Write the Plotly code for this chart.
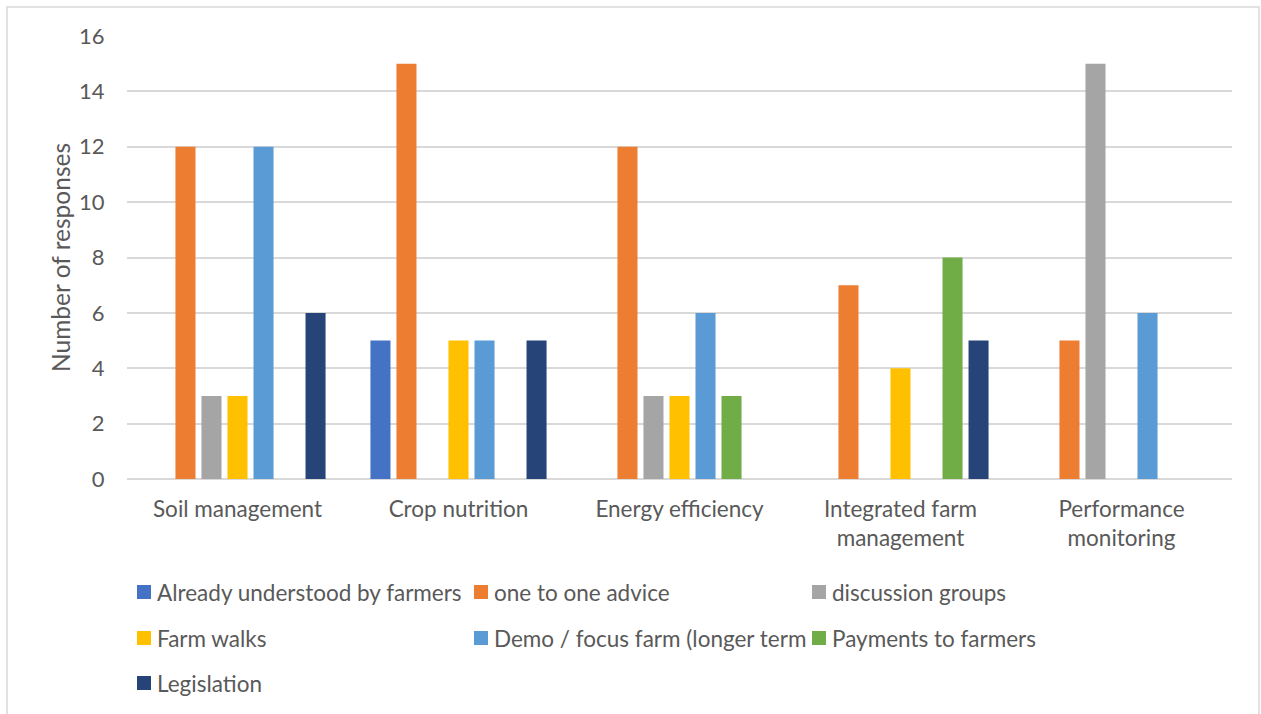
import plotly.graph_objects as go

# Topics (x categories) and the ways of delivering knowledge (series)
categories = [
    "Soil management",
    "Crop nutrition",
    "Energy efficiency",
    "Integrated farm<br>management",
    "Performance<br>monitoring",
]

series_names = [
    "Already understood by farmers",
    "one to one advice",
    "discussion groups",
    "Farm walks",
    "Demo / focus farm (longer term",
    "Payments to farmers",
    "Legislation",
]

already_understood = [0, 5, 0, 0, 0]
one_to_one_advice = [12, 15, 12, 7, 5]
discussion_groups = [3, 0, 3, 0, 15]
farm_walks = [3, 5, 3, 4, 0]
demo_focus_farm = [12, 5, 6, 0, 6]
payments_to_farmers = [0, 0, 3, 8, 0]
legislation = [6, 5, 0, 5, 0]

series_values = [
    already_understood,
    one_to_one_advice,
    discussion_groups,
    farm_walks,
    demo_focus_farm,
    payments_to_farmers,
    legislation,
]

colors = ["#4472C4", "#ED7D31", "#A5A5A5", "#FFC000", "#5B9BD5", "#70AD47", "#264478"]

y_ticks = [0, 2, 4, 6, 8, 10, 12, 14, 16]
y_title = "Number of responses"

FONT = "Lato"
TEXT = "#595959"
W, H = 1261, 714
L, R, T, B = 127, 29, 36, 235

fig = go.Figure()
for name, vals, col in zip(series_names, series_values, colors):
    fig.add_trace(go.Bar(x=categories, y=vals, name=name, marker=dict(color=col, line=dict(width=0))))

fig.update_layout(
    width=W,
    height=H,
    margin=dict(l=L, r=R, t=T, b=B),
    paper_bgcolor="white",
    plot_bgcolor="white",
    barmode="group",
    bargap=0.176,
    bargroupgap=0.23,
    showlegend=False,
    font=dict(family=FONT, color=TEXT, size=22),
)

fig.update_xaxes(
    showgrid=False,
    showline=False,
    ticks="outside",
    ticklen=10,
    tickcolor="rgba(0,0,0,0)",
    tickfont=dict(size=22.5, color=TEXT, family=FONT),
)
fig.update_yaxes(
    range=[0, 16],
    tickvals=y_ticks,
    showgrid=True,
    gridcolor="#D9D9D9",
    gridwidth=1.5,
    zeroline=True,
    zerolinecolor="#D9D9D9",
    zerolinewidth=1.5,
    showline=False,
    ticks="outside",
    ticklen=17,
    tickcolor="rgba(0,0,0,0)",
    tickfont=dict(size=22, color=TEXT, family=FONT),
)

pw = W - L - R
ph = H - T - B


def px_x(x):
    return (x - L) / pw


def px_y(y):
    return (H - B - y) / ph


# Vertical axis title
fig.add_annotation(
    xref="paper", yref="paper", x=px_x(60), y=px_y(258),
    text=y_title, textangle=-90, showarrow=False,
    xanchor="center", yanchor="middle",
    font=dict(size=24.5, color=TEXT, family=FONT),
)

# Chart-area border
fig.add_shape(
    type="rect", xref="paper", yref="paper",
    x0=px_x(7), x1=px_x(1259), y0=px_y(7), y1=px_y(730),
    line=dict(color="#D9D9D9", width=1.5), fillcolor="rgba(0,0,0,0)", layer="below",
)

# Legend laid out in three columns under the plot
col_x = [137, 474, 812]
row_y = [592, 638, 683]
for i, (name, col) in enumerate(zip(series_names, colors)):
    cx = col_x[i % 3]
    cy = row_y[i // 3]
    fig.add_shape(
        type="rect", xref="paper", yref="paper",
        x0=px_x(cx), x1=px_x(cx + 14), y0=px_y(cy - 7), y1=px_y(cy + 7),
        line=dict(width=0), fillcolor=col,
    )
    fig.add_annotation(
        xref="paper", yref="paper", x=px_x(cx + 18), y=px_y(cy),
        text=name, showarrow=False, xanchor="left", yanchor="middle",
        font=dict(size=22.5, color=TEXT, family=FONT),
    )

fig.write_html("out.html")
